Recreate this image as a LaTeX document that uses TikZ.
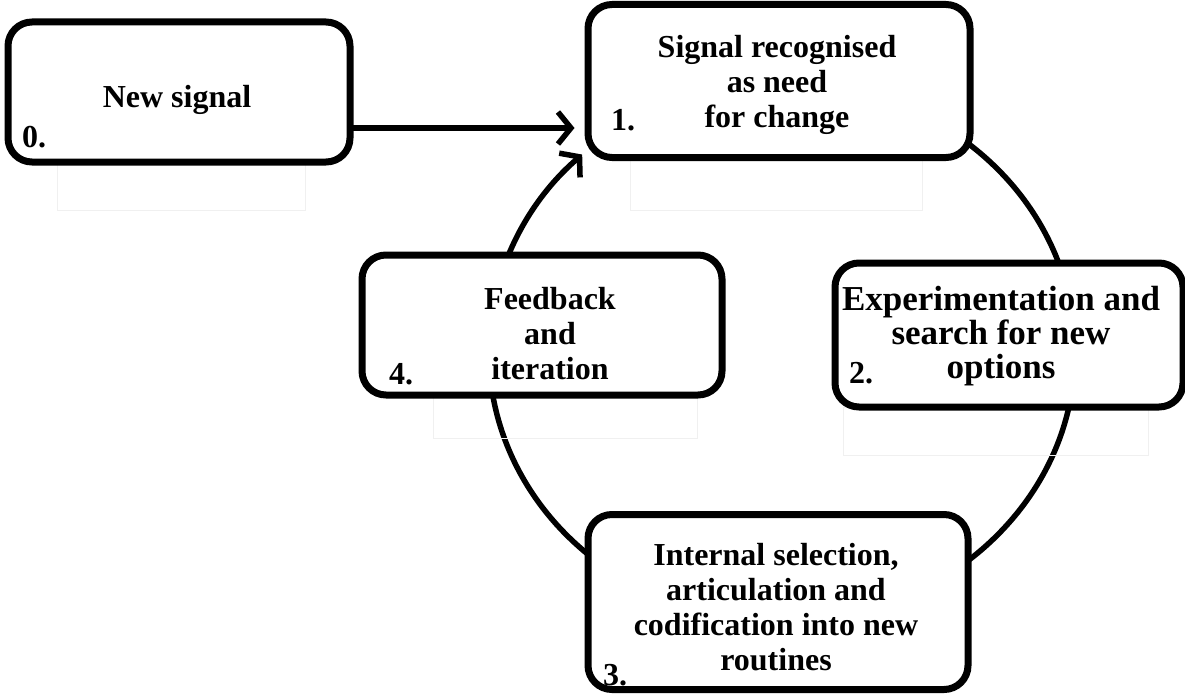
\documentclass[tikz,border=0pt]{standalone}
\usepackage{fontspec}
\setmainfont{Liberation Serif}
\usetikzlibrary{arrows.meta,backgrounds,calc}

\begin{document}
\begin{tikzpicture}[x=1pt,y=-1pt,
  box/.style={draw=black, line width=7pt, rounded corners=24pt, fill=white,
    inner sep=0pt},
  txt/.style={align=center, inner sep=0pt,
    font=\bfseries\fontsize{32}{35}\selectfont},
  bigtxt/.style={txt, font=\bfseries\fontsize{35}{34}\selectfont},
  num/.style={anchor=base west, inner sep=0pt,
    font=\bfseries\fontsize{32}{35}\selectfont},
  link/.style={line width=5.5pt, line cap=round,
    -{Straight Barb[length=13pt,width=32pt,line width=5.5pt]}},
  ghost/.style={draw=black!6, line width=1pt}]

\useasboundingbox (0,0) rectangle (1185,693);

% faint outlines under the boxes
\draw[ghost] (57,162) rectangle (305,210);
\draw[ghost] (630,160) rectangle (922,210);
\draw[ghost] (433,395) rectangle (697,438);
\draw[ghost] (843,407) rectangle (1148,455);

% stage boxes
\node[box, minimum width=342pt, minimum height=140pt] (b0) at (179,92) {};
\node[box, minimum width=382pt, minimum height=153pt] (b1) at (779,81) {};
\node[box, minimum width=348pt, minimum height=144pt] (b2) at (1009,335) {};
\node[box, minimum width=380pt, minimum height=175pt] (b3) at (778,602) {};
\node[box, minimum width=360pt, minimum height=140pt] (b4) at (542,325) {};

% box texts
\node[txt] (t0) at (177,100) {New signal};
\node[txt] (t1) at (777,85) {Signal recognised\\as need\\for change};
\node[bigtxt] (t2) at (1001,336) {Experimentation and\\search for new\\options};
\node[txt] (t3) at (776,607) {Internal selection,\\articulation and\\codification into new\\routines};
\node[txt] (t4) at (550,334) {Feedback\\and\\iteration};

% stage numbers
\node[num] (n0) at (22,147) {0.};
\node[num] (n1) at (611,130) {1.};
\node[num] (n2) at (849,383) {2.};
\node[num] (n3) at (603,685) {3.};
\node[num] (n4) at (389,384) {4.};

% arrow from the new signal into the cycle
\draw[link] (b0.east |- 0,128) -- ($(b1.west |- 0,128)+(-10,0)$);

% the cycle itself, running behind the boxes
\coordinate (c) at (782,352);
\begin{pgfonlayer}{background}
  \draw[link] (c) ++(-51:293 and 270)
    arc[start angle=-51, end angle=227, x radius=293, y radius=270];
\end{pgfonlayer}
\end{tikzpicture}
\end{document}
